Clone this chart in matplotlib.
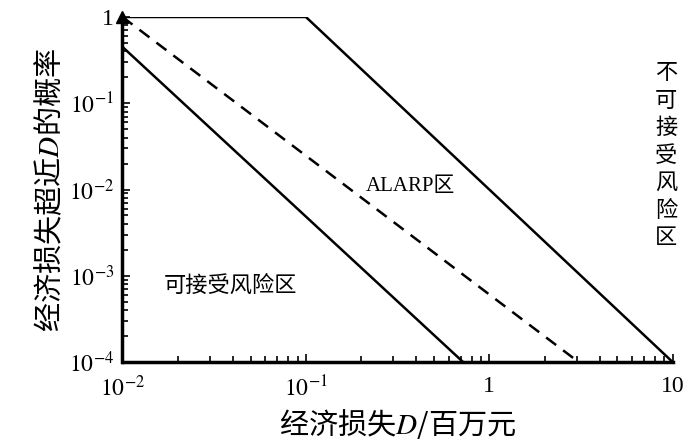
import matplotlib
matplotlib.use('Agg')
import matplotlib.pyplot as plt
from matplotlib.ticker import FixedLocator, FixedFormatter, LogLocator, NullFormatter

plt.rcParams['font.family'] = ['Liberation Serif', 'Noto Sans CJK SC']
plt.rcParams['mathtext.fontset'] = 'stix'

# boundary lines (economic loss D in million yuan, exceedance probability)
upper_x = [0.01, 0.1, 10]
upper_y = [1, 1, 1e-4]
alarp_x = [0.01, 3.07]
alarp_y = [1, 1e-4]
lower_x = [0.01, 0.72]
lower_y = [0.45, 1e-4]

x_ticks = [1e-2, 1e-1, 1, 10]
x_labels = [r'$10^{-2}$', r'$10^{-1}$', '1', '10']
y_ticks = [1e-4, 1e-3, 1e-2, 1e-1, 1]
y_labels = [r'$10^{-4}$', r'$10^{-3}$', r'$10^{-2}$', r'$10^{-1}$', '1']

fig = plt.figure(figsize=(7, 4.47), dpi=100)
ax = fig.add_axes([0.175, 0.19, 0.786, 0.772])

ax.plot(upper_x, upper_y, 'k-', lw=1.8)
ax.plot(alarp_x, alarp_y, 'k--', lw=1.8, dashes=(5, 3.5))
ax.plot(lower_x, lower_y, 'k-', lw=1.8)

ax.set_xscale('log')
ax.set_yscale('log')
ax.set_xlim(1e-2, 10)
ax.set_ylim(1e-4, 1)

ax.xaxis.set_major_locator(FixedLocator(x_ticks))
ax.xaxis.set_major_formatter(FixedFormatter(x_labels))
ax.yaxis.set_major_locator(FixedLocator(y_ticks))
ax.yaxis.set_major_formatter(FixedFormatter(y_labels))
ax.xaxis.set_minor_locator(LogLocator(base=10, subs=range(2, 10)))
ax.yaxis.set_minor_locator(LogLocator(base=10, subs=range(2, 10)))
ax.xaxis.set_minor_formatter(NullFormatter())
ax.yaxis.set_minor_formatter(NullFormatter())

ax.tick_params(which='both', direction='in', width=1.2, labelsize=17)
ax.tick_params(which='major', length=6)
ax.tick_params(which='minor', length=4)
ax.tick_params(axis='x', pad=10)
ax.tick_params(axis='y', pad=6)

for s in ['top', 'right']:
    ax.spines[s].set_visible(False)
for s in ['left', 'bottom']:
    ax.spines[s].set_linewidth(2.5)

# arrow head on top of the y axis
ax.plot([0], [1], marker='^', color='k', markersize=9, transform=ax.transAxes, clip_on=False)

cjk = 'Noto Sans CJK SC'
ax.text(0.37, 0.0107, 'ALARP区', fontsize=15, ha='center', va='center')
ax.text(0.039, 7.8e-4, '可接受风险区', fontsize=16, ha='center', va='center', family=cjk)
ax.text(9.2, 0.025, '不\n可\n接\n受\n风\n险\n区', fontsize=16, ha='center', va='center',
        linespacing=1.25, family=cjk)

ax.set_xlabel('经济损失$D$/百万元', fontsize=21, labelpad=4, family=cjk)
ax.set_ylabel('经济损失超近$D$的概率', fontsize=21, labelpad=2, family=cjk)

fig.savefig('out.png', dpi=100)
